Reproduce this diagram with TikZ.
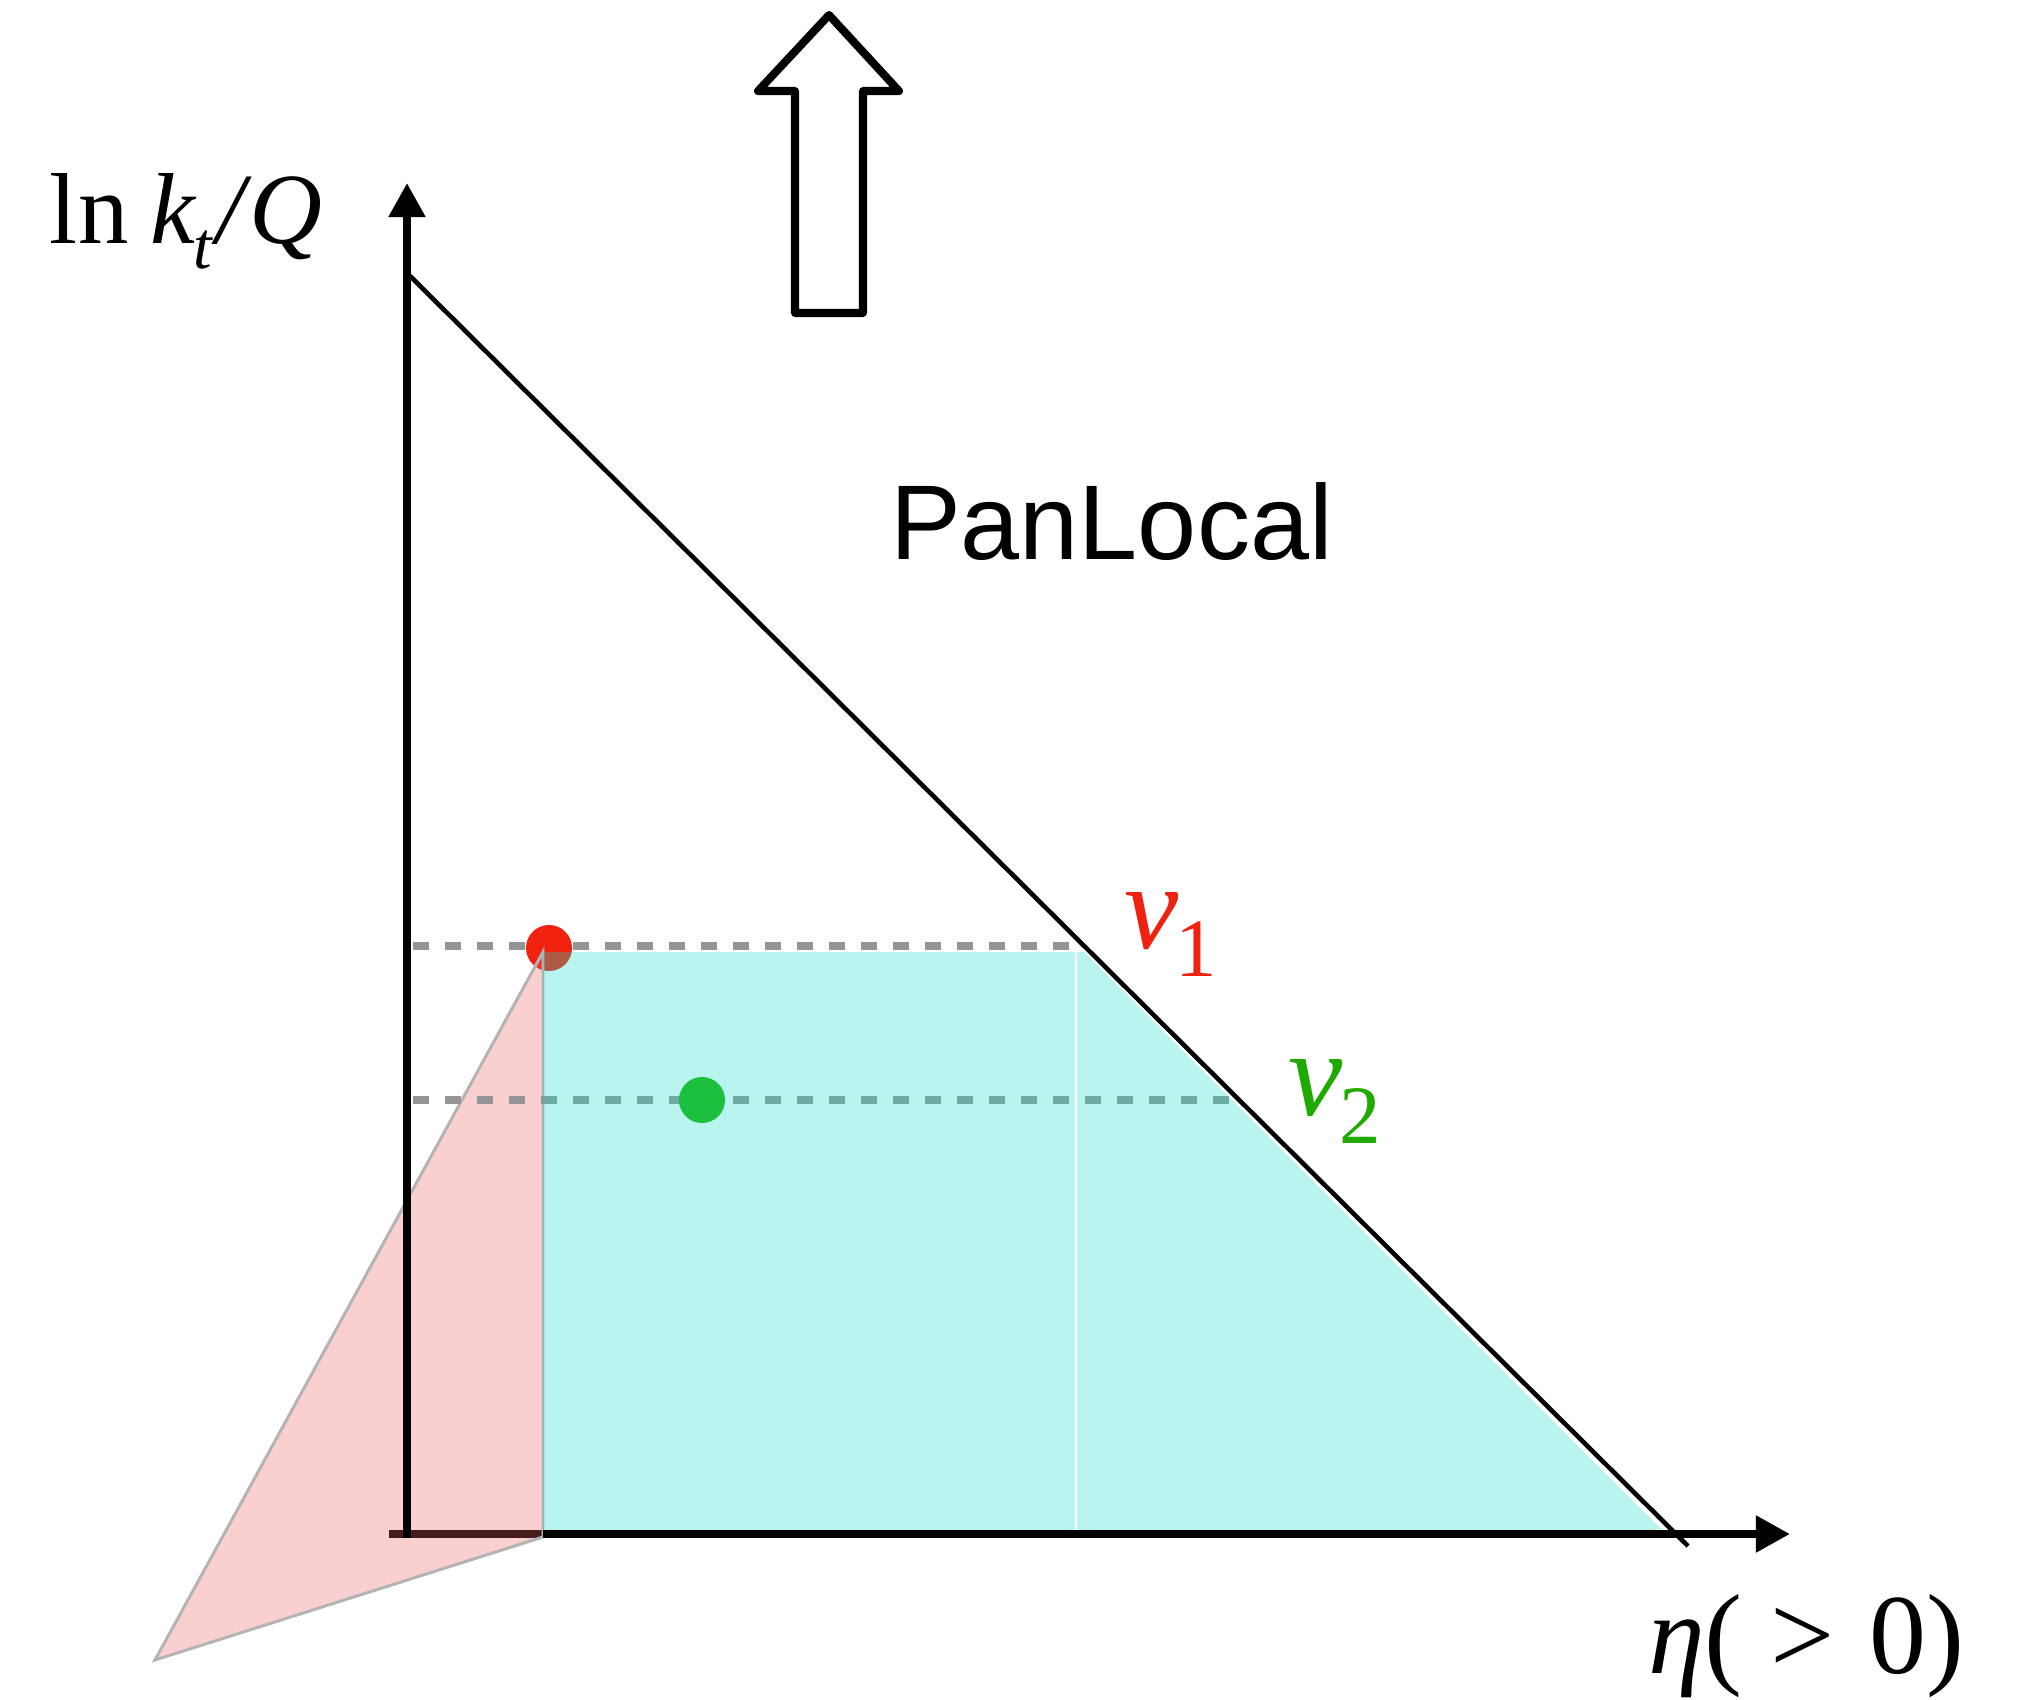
\documentclass[tikz,border=0pt]{standalone}
\usepackage{fontspec}
\setmainfont{Liberation Serif}
\newfontfamily\helv{Liberation Sans}
\usetikzlibrary{arrows.meta}
\definecolor{cyanC}{RGB}{22,222,198}
\definecolor{redF}{RGB}{239,95,95}
\definecolor{dotred}{RGB}{240,34,15}
\definecolor{dotgreen}{RGB}{27,191,61}
\definecolor{dashgray}{RGB}{149,149,149}
\definecolor{vred}{RGB}{238,34,17}
\definecolor{vgreen}{RGB}{32,170,0}
\definecolor{edgegray}{RGB}{180,180,180}
\begin{document}
\begin{tikzpicture}[x=0.01cm,y=-0.01cm,
  axisline/.style={line width=2.28pt,-{Triangle[length=0.34cm,width=0.35cm]}},
  guide/.style={dashgray,line width=2.28pt,dash pattern=on 4.55pt off 4.55pt},
  lbl/.style={anchor=base west,inner sep=0pt,outer sep=0pt}]
\useasboundingbox (0,0) rectangle (2023,1700);
% key points
\coordinate (O) at (407,1534);
\coordinate (apex) at (543,952);
\coordinate (low) at (155,1660);
\coordinate (foot) at (543,1537);
\coordinate (d1) at (409,275);
\coordinate (d2) at (1688,1546);
\coordinate (xs) at (389,1534);
\coordinate (xm) at (543,1534);
\coordinate (xe) at (1790,1534);
% upper dashed guide
\draw[guide] (413,946) -- (1073,946);
% red dot
\fill[dotred] (549,948) circle[radius=0.23cm];
% x axis (left part shows through the red region)
\draw[line width=2.28pt] (xs) -- (xm);
% red region
\draw[edgegray,line width=0.85pt,fill=redF,fill opacity=0.3] (apex) -- (low) -- (foot) -- cycle;
% lower dashed guide
\draw[guide] (413,1100) -- (1233,1100);
% cyan region
\fill[cyanC,fill opacity=0.3] (apex) -- (1084,952) -- (1666,1534) -- (543,1534) -- cycle;
\draw[white,line width=0.6pt] (1076,952) -- (1076,1531);
% x axis on top of cyan
\draw[axisline] (xm) -- (xe);
% y axis
\draw[axisline] (407,1538) -- (407,183);
% diagonal
\draw[line width=1.3pt] (d1) -- (d2);
% green dot
\fill[dotgreen] (702,1100) circle[radius=0.23cm];
% hollow arrow
\draw[line width=2.28pt,line join=round,fill=white] (795,313) -- (795,91) -- (758,91) -- (829,15) -- (899,91) -- (863,91) -- (863,313) -- cycle;
% labels
\node[lbl] (ylab) at (50,244) {\fontsize{28.7}{34}\selectfont ln\hspace{0.22em}\textit{k}\hspace{-0.03em}\raisebox{-0.24em}{\fontsize{19}{20}\selectfont\textit{t}}\hspace{0.03em}\textit{/\hspace{0.05em}Q}};
\node[lbl] (pan) at (890,559) {\helv\fontsize{30.2}{36}\selectfont PanLocal};
\node[lbl,text=vred] (v1) at (1124,948) {\fontsize{34.7}{40}\selectfont\textit{v}\hspace{-0.02em}\raisebox{-0.23em}{\fontsize{23.6}{28}\selectfont 1}};
\node[lbl,text=vgreen] (v2) at (1288,1115) {\fontsize{34.7}{40}\selectfont\textit{v}\hspace{-0.02em}\raisebox{-0.23em}{\fontsize{23.6}{28}\selectfont 2}};
\node[lbl] (xlab) at (1648,1673) {\fontsize{32.4}{38}\selectfont\textit{η}(\hspace{0.25em}>\hspace{0.3em}0)};
\end{tikzpicture}
\end{document}
